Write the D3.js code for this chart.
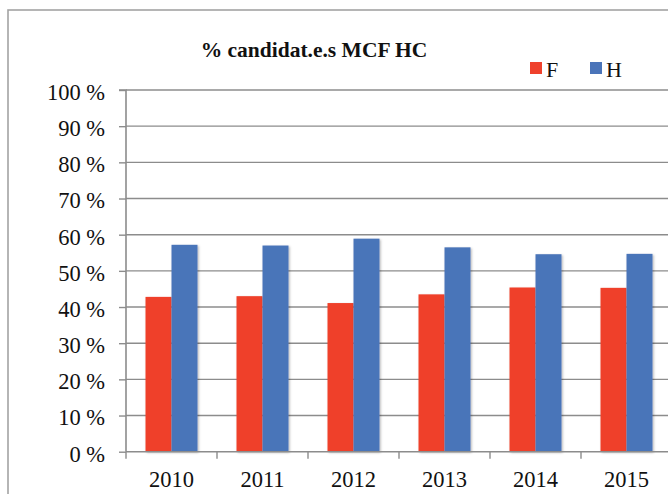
<!DOCTYPE html>
<html>
<head>
<meta charset="utf-8">
<script src="https://cdn.jsdelivr.net/npm/d3@7"></script>
<style>
  html, body { margin: 0; padding: 0; background: #fff; }
  svg { display: block; }
</style>
</head>
<body>
<svg id="chart" width="668" height="494"></svg>
<script>
const years = ["2010", "2011", "2012", "2013", "2014", "2015"];
const seriesNames = ["F", "H"];
const valuesF = [42.8, 43.0, 41.1, 43.5, 45.4, 45.3];
const valuesH = [57.2, 57.0, 58.9, 56.5, 54.6, 54.7];
const yTicks = [0, 10, 20, 30, 40, 50, 60, 70, 80, 90, 100];
const title = "% candidat.e.s MCF HC";
const colors = { F: "#ef412c", H: "#4a74b9" };

const svg = d3.select("#chart");
const font = "'Liberation Serif', 'Times New Roman', serif";

const defs = svg.append("defs");
const f = defs.append("filter").attr("id", "shadow").attr("x", "-20%").attr("y", "-5%").attr("width", "150%").attr("height", "120%");
f.append("feDropShadow").attr("dx", 1.2).attr("dy", 1).attr("stdDeviation", 1.2)
  .attr("flood-color", "#000").attr("flood-opacity", 0.28);

svg.append("rect").attr("x", 8).attr("y", 10).attr("width", 720).attr("height", 520)
  .attr("fill", "none").attr("stroke", "#a3a3a3").attr("stroke-width", 1.6);

const left = 126, step = 91;
const x0 = d3.scaleBand().domain(years).range([left, left + step * years.length]).paddingInner(0).paddingOuter(0);
const x1 = d3.scaleBand().domain(seriesNames).range([0, x0.bandwidth()]).paddingInner(0).paddingOuter(0.75);
const y = d3.scaleLinear().domain([0, 100]).range([451.7, 90]);

const grid = "#8c8c8c";

svg.append("g").selectAll("line").data(yTicks.filter(d => d > 0)).join("line")
  .attr("x1", left).attr("x2", 700)
  .attr("y1", d => y(d)).attr("y2", d => y(d))
  .attr("stroke", grid).attr("stroke-width", 1.4);

const data = years.map((yr, i) => ({ year: yr, F: valuesF[i], H: valuesH[i] }));
const groups = svg.append("g").selectAll("g").data(data).join("g")
  .attr("transform", d => `translate(${x0(d.year)},0)`);
groups.selectAll("rect").data(d => seriesNames.map(k => ({ key: k, value: d[k] }))).join("rect")
  .attr("x", d => x1(d.key))
  .attr("width", x1.bandwidth())
  .attr("y", d => y(d.value))
  .attr("height", d => y(0) - y(d.value))
  .attr("fill", d => colors[d.key])
  .attr("filter", "url(#shadow)");

const yAxis = d3.axisLeft(y).tickValues(yTicks).tickSize(7).tickPadding(14)
  .tickFormat(d => d + " %");
const gy = svg.append("g").attr("transform", `translate(${left},0)`).call(yAxis);
gy.attr("font-family", font);
gy.select(".domain").attr("stroke", grid).attr("stroke-width", 1.6).attr("d", `M-7,${y(100)}H0V${y(0)}`);
gy.selectAll(".tick line").attr("stroke", grid).attr("stroke-width", 1.4);
gy.selectAll(".tick text").attr("font-family", font).attr("font-size", 22.5).attr("fill", "#111")
  .attr("dy", "0.42em");

const xAxis = d3.axisBottom(x0).tickSize(0).tickPadding(19);
const gx = svg.append("g").attr("transform", `translate(0,${y(0)})`).call(xAxis);
gx.attr("font-family", font);
gx.select(".domain").attr("stroke", grid).attr("stroke-width", 1.6).attr("d", `M${left},0H700`);
gx.selectAll(".tick text").attr("font-family", font).attr("font-size", 22.5).attr("fill", "#111");
const boundaries = years.map(d => x0(d)).concat([x0(years[years.length - 1]) + x0.bandwidth()]);
gx.append("g").selectAll("line").data(boundaries).join("line")
  .attr("x1", d => d).attr("x2", d => d).attr("y1", 0).attr("y2", 7)
  .attr("stroke", grid).attr("stroke-width", 1.4);

svg.append("text").attr("x", 314).attr("y", 57).attr("text-anchor", "middle")
  .attr("font-family", font).attr("font-weight", "bold").attr("font-size", 21.5)
  .attr("fill", "#111").text(title);

const legend = svg.append("g");
const legX = [530, 590];
seriesNames.forEach((k, i) => {
  legend.append("rect").attr("x", legX[i]).attr("y", 62).attr("width", 12).attr("height", 12).attr("fill", colors[k]);
  legend.append("text").attr("x", legX[i] + 16).attr("y", 77)
    .attr("font-family", font).attr("font-size", 22).attr("fill", "#111").text(k);
});
</script>
</body>
</html>
